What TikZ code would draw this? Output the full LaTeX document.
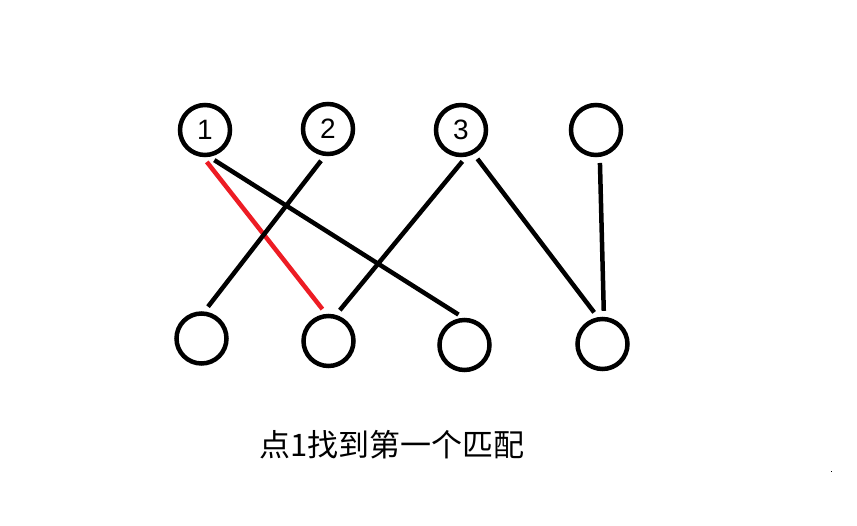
\documentclass[tikz,border=0pt]{standalone}
\usepackage{fontspec}
\setmainfont{Liberation Sans}
\newfontfamily\cjk{Noto Sans CJK SC}
\definecolor{paintred}{RGB}{237,28,36}
\tikzset{
  vert/.style={draw, circle, line width=\linew, minimum size=\vsize, inner sep=0pt, font=\fontsize{28}{28}\selectfont},
  match/.style={line width=\linew, shorten >=\gap, shorten <=\gap},
}

\begin{document}
\begin{tikzpicture}[x=1pt,y=-1pt]
	%%%%% START %%%%%
	\def\linew{4.5pt}
	\def\vsize{50pt}
	\def\gap{6pt}
	\useasboundingbox (0,0) rectangle (857,525);

	% upper row
	\node[vert] (t1) at (205,130) {1};
	\node[vert] (t2) at (328,129) {2};
	\node[vert] (t3) at (461,130) {3};
	\node[vert] (t4) at (596,130) {};

	% lower row
	\node[vert] (b1) at (201.5,338.5) {};
	\node[vert] (b2) at (328.5,341) {};
	\node[vert] (b3) at (464.5,345) {};
	\node[vert] (b4) at (602.5,344) {};

	\draw[match, paintred] (t1.266) -- (b2.95);
	\draw[match] (t1.279) -- (b3.92);
	\draw[match] (t2.263) -- (b1.84);
	\draw[match] (t3.281) -- (b2.74);
	\draw[match] (t3.298) -- (b4.100);
	\draw[match] (t4.278) -- (b4.87);

	\node[font=\cjk\fontsize{31}{31}\selectfont] (caption) at (392,445) {点1找到第一个匹配};

	\fill (830.5,470.5) rectangle (831.5,471.5);
	%%%%% END %%%%%
\end{tikzpicture}
\end{document}
